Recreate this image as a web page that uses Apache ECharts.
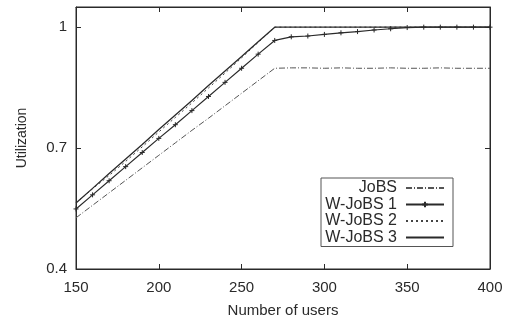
<!DOCTYPE html>
<html>
<head>
<meta charset="utf-8">
<script src="https://cdn.jsdelivr.net/npm/echarts@6/dist/echarts.min.js"></script>
<style>html,body{margin:0;padding:0;background:#fff;}#c{width:510px;height:317px;}</style>
</head>
<body>
<div id="c"></div>
<script>
var users = [150,160,170,180,190,200,210,220,230,240,250,260,270,280,290,300,310,320,330,340,350,360,370,380,390,400];
var jobs   = [0.527,0.558,0.589,0.620,0.651,0.682,0.713,0.744,0.774,0.805,0.836,0.867,0.898,0.899,0.899,0.898,0.899,0.898,0.898,0.899,0.898,0.898,0.899,0.898,0.898,0.898];
var wjobs1 = [0.549,0.584,0.619,0.654,0.689,0.724,0.758,0.793,0.828,0.863,0.898,0.933,0.967,0.976,0.978,0.982,0.986,0.989,0.993,0.996,0.999,1.0,1.0,1.0,1.0,1.0];
var wjobs2 = [0.564,0.599,0.632,0.667,0.703,0.740,0.776,0.812,0.849,0.886,0.924,0.962,1.0,1.0,1.0,1.0,1.0,1.0,1.0,1.0,1.0,1.0,1.0,1.0,1.0,1.0];
var wjobs3 = [0.564,0.600,0.637,0.673,0.709,0.746,0.782,0.818,0.855,0.891,0.927,0.964,1.0,1.0,1.0,1.0,1.0,1.0,1.0,1.0,1.0,1.0,1.0,1.0,1.0,1.0];
var xTicks = [150,200,250,300,350,400];
var yTicks = [0.4,0.7,1];
var names = ['JoBS','W-JoBS 1','W-JoBS 2','W-JoBS 3'];

function pairs(ys){ return users.map(function(u,i){ return [u, ys[i]]; }); }
var ink = '#2a2a2a';
var font = 'Liberation Sans, Arial, sans-serif';
var hidden = {color:'rgba(0,0,0,0)', borderColor:'rgba(0,0,0,0)', borderWidth:0, opacity:0};
var chart = echarts.init(document.getElementById('c'), null, {renderer:'canvas'});
var tickStyle = {show:true, inside:true, length:5, lineStyle:{color:ink, width:1}};
chart.setOption({
  animation:false,
  backgroundColor:'#fff',
  grid:{left:76, right:20, top:7, bottom:48, show:true, borderColor:ink, borderWidth:1, outerBoundsMode:'none', containLabel:false},
  xAxis:[{
    type:'value', min:150, max:400, interval:50,
    axisLine:{show:true, lineStyle:{color:ink}},
    axisTick:Object.assign({customValues:[200,250,300,350]}, tickStyle),
    axisLabel:{customValues:xTicks, margin:11, fontSize:15, color:ink, fontFamily:font},
    splitLine:{show:false},
    name:'Number of users', nameLocation:'middle', nameGap:34,
    nameTextStyle:{fontSize:15, color:ink, fontFamily:font}
  },{
    type:'value', min:150, max:400, interval:50, position:'top',
    axisLine:{show:true, lineStyle:{color:ink}},
    axisTick:Object.assign({customValues:[200,250,300,350]}, tickStyle),
    axisLabel:{show:false}, splitLine:{show:false}
  }],
  yAxis:[{
    type:'value', min:0.4, max:1.05,
    axisLine:{show:true, lineStyle:{color:ink}},
    axisTick:Object.assign({customValues:[0.7,1]}, tickStyle),
    axisLabel:{customValues:yTicks, margin:9, fontSize:15, color:ink, fontFamily:font},
    splitLine:{show:false},
    name:'Utilization', nameLocation:'middle', nameGap:47,
    nameTextStyle:{fontSize:14, color:ink, fontFamily:font}
  },{
    type:'value', min:0.4, max:1.05, position:'right',
    axisLine:{show:true, lineStyle:{color:ink}},
    axisTick:Object.assign({customValues:[0.7,1]}, tickStyle),
    axisLabel:{show:false}, splitLine:{show:false}
  }],
  legend:{
    orient:'vertical', right:57, top:178, align:'right',
    data:[
      {name:names[0], itemStyle:hidden},
      {name:names[1]},
      {name:names[2], itemStyle:hidden},
      {name:names[3], itemStyle:hidden}
    ],
    itemWidth:38, itemHeight:7, itemGap:0.5,
    padding:[2,8,1,3],
    borderColor:'#555', borderWidth:1, backgroundColor:'#fff',
    textStyle:{fontSize:16, color:ink, fontFamily:font, width:73, align:'right', lineHeight:15, padding:[0,4,0,0]}
  },
  series:[
    {name:names[0], type:'line', data:pairs(jobs), symbol:'none', color:'#555',
     lineStyle:{color:'#555', width:1, type:[6,2,1,2]}},
    {name:names[1], type:'line', data:pairs(wjobs1), symbol:'path://M0,5L10,5M5,0L5,10', symbolSize:5, showSymbol:true,
     color:ink, itemStyle:{color:ink, borderColor:ink, borderWidth:1},
     lineStyle:{color:ink, width:1.2}},
    {name:names[2], type:'line', data:pairs(wjobs2), symbol:'none', color:'#444',
     lineStyle:{color:'#444', width:1, type:[2,3]}},
    {name:names[3], type:'line', data:pairs(wjobs3), symbol:'none', color:ink,
     lineStyle:{color:ink, width:1.3}}
  ]
});
</script>
</body>
</html>
